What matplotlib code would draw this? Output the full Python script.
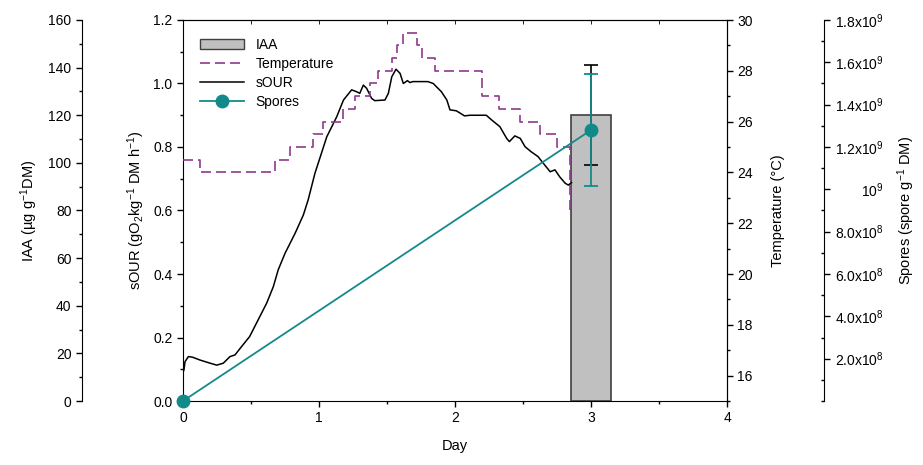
import numpy as np
import matplotlib
matplotlib.use('Agg')
import matplotlib.pyplot as plt
from matplotlib.patches import Patch
from matplotlib.lines import Line2D
from matplotlib.ticker import MultipleLocator, FixedLocator

plt.rcParams['font.family'] = ['Liberation Sans', 'DejaVu Sans']
plt.rcParams['font.size'] = 10
plt.rcParams['mathtext.fontset'] = 'custom'
plt.rcParams['mathtext.rm'] = 'Liberation Sans'
plt.rcParams['mathtext.it'] = 'Liberation Sans:italic'
plt.rcParams['mathtext.default'] = 'regular'

# sOUR curve (day, gO2/kg DM/h)
sour_day = [0, 0.007, 0.015, 0.04, 0.07, 0.125, 0.2, 0.248, 0.296, 0.346, 0.382,
            0.43, 0.49, 0.54, 0.615, 0.664, 0.70, 0.75, 0.824, 0.885, 0.92, 0.97,
            1.057, 1.13, 1.18, 1.24, 1.277, 1.30, 1.326, 1.35, 1.387, 1.41, 1.485,
            1.51, 1.535, 1.566, 1.596, 1.62, 1.65, 1.669, 1.69, 1.80, 1.84, 1.90,
            1.94, 1.963, 2.01, 2.04, 2.07, 2.11, 2.23, 2.27, 2.33, 2.38, 2.40,
            2.44, 2.48, 2.515, 2.56, 2.61, 2.66, 2.70, 2.735, 2.77, 2.81, 2.833, 2.857]
sour = [0.09, 0.098, 0.124, 0.14, 0.138, 0.129, 0.119, 0.113, 0.119, 0.14, 0.145,
        0.171, 0.203, 0.245, 0.308, 0.36, 0.413, 0.465, 0.528, 0.586, 0.633, 0.717,
        0.832, 0.895, 0.948, 0.98, 0.974, 0.969, 0.995, 0.985, 0.953, 0.946, 0.948,
        0.969, 1.021, 1.045, 1.032, 1.0, 1.009, 1.003, 1.006, 1.006, 1.0, 0.974,
        0.948, 0.917, 0.914, 0.906, 0.898, 0.90, 0.90, 0.885, 0.864, 0.827, 0.817,
        0.835, 0.827, 0.801, 0.785, 0.77, 0.743, 0.722, 0.728, 0.706, 0.686, 0.68, 0.688]

# temperature steps (day, degC)
temp_day = [0, 0.125, 0.676, 0.79, 0.958, 1.03, 1.18, 1.265, 1.375, 1.436, 1.534,
            1.571, 1.62, 1.718, 1.755, 1.853, 2.196, 2.32, 2.48, 2.625, 2.75, 2.846]
temp = [24.5, 24, 24.5, 25, 25.5, 26, 26.5, 27, 27.5, 28, 28.5,
        29, 29.5, 29, 28.5, 28, 27, 26.5, 26, 25.5, 25, 22.4]

# IAA bar
iaa_day = [3]
iaa = [120]
iaa_err = [21]

# spores
spore_day = [0, 3]
spores = [0, 1.28e9]
spore_err = [0, 2.64e8]

spore_ticks = [2e8, 4e8, 6e8, 8e8, 1e9, 1.2e9, 1.4e9, 1.6e9, 1.8e9]
spore_labels = ['2.0x10$^8$', '4.0x10$^8$', '6.0x10$^8$', '8.0x10$^8$', '10$^9$',
                '1.2x10$^9$', '1.4x10$^9$', '1.6x10$^9$', '1.8x10$^9$']

purple = '#8E3A8E'
teal = '#138A8A'

fig = plt.figure(figsize=(9.23, 4.65), dpi=100)
ax = fig.add_axes([183/923, 64/465, 544/923, 381/465])
ax_iaa = ax.twinx()
ax_temp = ax.twinx()
ax_sp = ax.twinx()

ax_iaa.set_zorder(1)
ax.set_zorder(2)
ax_temp.set_zorder(3)
ax_sp.set_zorder(4)
for a in (ax, ax_temp, ax_sp):
    a.patch.set_visible(False)

# IAA axis (outer left), offsets are in points (px * 0.72)
ax_iaa.bar(iaa_day, iaa, width=0.3, color='#c0c0c0', edgecolor='#404040', linewidth=1.2)
ax_iaa.errorbar(iaa_day, iaa, yerr=iaa_err, fmt='none', ecolor='black',
                elinewidth=1.2, capsize=5, capthick=1.2)
ax_iaa.set_ylim(0, 160)
ax_iaa.yaxis.set_ticks_position('left')
ax_iaa.yaxis.set_label_position('left')
ax_iaa.spines['left'].set_position(('outward', 101 * 0.72))
for s in ('right', 'top', 'bottom'):
    ax_iaa.spines[s].set_visible(False)
ax_iaa.yaxis.set_major_locator(MultipleLocator(20))
ax_iaa.yaxis.set_minor_locator(MultipleLocator(10))
ax_iaa.set_ylabel('IAA (µg g$^{-1}$DM)', fontsize=10.5)
ax_iaa.yaxis.set_label_coords(-0.262, 0.5)

# sOUR main axis
ax.plot(sour_day, sour, color='black', lw=1.1)
ax.set_xlim(0, 4)
ax.set_ylim(0, 1.2)
ax.xaxis.set_major_locator(MultipleLocator(1))
ax.xaxis.set_minor_locator(MultipleLocator(0.5))
ax.yaxis.set_major_locator(MultipleLocator(0.2))
ax.yaxis.set_minor_locator(MultipleLocator(0.1))
ax.yaxis.set_major_formatter(plt.FormatStrFormatter('%.1f'))
ax.set_xlabel('Day', fontsize=10.5)
ax.set_ylabel('sOUR (gO$_2$kg$^{-1}$ DM h$^{-1}$)', fontsize=10.5)
ax.yaxis.set_label_coords(-0.066, 0.5)
ax.xaxis.set_label_coords(0.5, -0.10)
sec = ax.secondary_xaxis('top')
sec.set_xticks([])
sec.xaxis.set_minor_locator(MultipleLocator(0.5))
sec.tick_params(which='minor', direction='in', length=3)

# temperature axis
ax_temp.plot(temp_day, temp, color=purple, lw=1.2, ls=(0, (6, 3)), drawstyle='steps-post')
ax_temp.set_ylim(15, 30)
ax_temp.yaxis.set_major_locator(MultipleLocator(2))
ax_temp.yaxis.set_minor_locator(MultipleLocator(1))
ax_temp.set_ylabel('Temperature (°C)', fontsize=10.5)
ax_temp.yaxis.set_label_coords(1.080, 0.5)
for s in ('left', 'top', 'bottom'):
    ax_temp.spines[s].set_visible(False)

# spores axis (outer right)
ax_sp.plot(spore_day, spores, color=teal, lw=1.3, marker='o', ms=9,
           markerfacecolor=teal, markeredgecolor=teal, clip_on=False)
ax_sp.errorbar(spore_day[1:], spores[1:], yerr=spore_err[1:], fmt='none', ecolor=teal,
               elinewidth=1.3, capsize=5, capthick=1.3)
ax_sp.set_ylim(0, 1.8e9)
ax_sp.spines['right'].set_position(('outward', 97 * 0.72))
for s in ('left', 'top', 'bottom'):
    ax_sp.spines[s].set_visible(False)
ax_sp.yaxis.set_major_locator(FixedLocator(spore_ticks))
ax_sp.set_yticklabels(spore_labels, ha='right')
ax_sp.yaxis.set_minor_locator(MultipleLocator(1e8))
ax_sp.tick_params(axis='y', which='major', pad=39)
ax_sp.tick_params(axis='y', which='minor', direction='in')
ax_sp.set_ylabel('Spores (spore g$^{-1}$ DM)', fontsize=10.5)
ax_sp.yaxis.set_label_coords(1.31, 0.5)

for a in (ax, ax_iaa, ax_temp, ax_sp):
    a.tick_params(which='major', length=4, width=1)
    a.tick_params(which='minor', length=2.5, width=1)

handles = [Patch(facecolor='#c0c0c0', edgecolor='#404040'),
           Line2D([], [], color=purple, lw=1.2, ls=(0, (6, 3))),
           Line2D([], [], color='black', lw=1.1),
           Line2D([], [], color=teal, lw=1.3, marker='o', ms=9)]
ax_sp.legend(handles, ['IAA', 'Temperature', 'sOUR', 'Spores'], loc='upper left',
             bbox_to_anchor=(0.021, 0.967), borderaxespad=0, frameon=False,
             handlelength=3.2, labelspacing=0.35, handletextpad=0.8)

fig.savefig('out.png', dpi=100)
